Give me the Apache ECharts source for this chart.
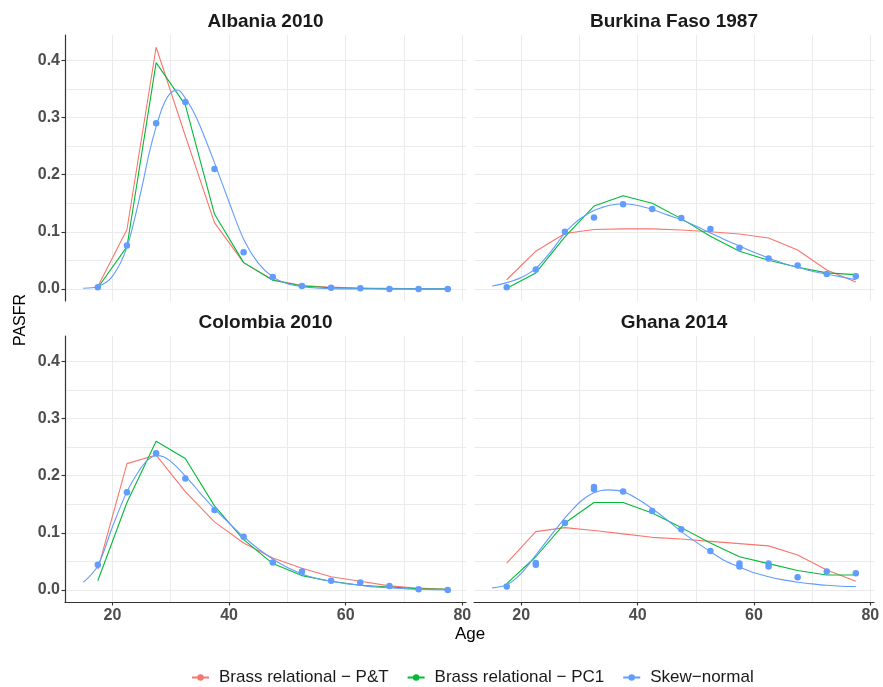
<!DOCTYPE html>
<html>
<head>
<meta charset="utf-8">
<title>PASFR by age</title>
<script src="https://cdn.jsdelivr.net/npm/echarts@6/dist/echarts.min.js"></script>
<style>
  html, body { margin: 0; padding: 0; background: #ffffff; }
  #chart { width: 883px; height: 687px; }
</style>
</head>
<body>
<div id="chart"></div>
<script>
// Age groups (mid-points) for observed rates and the two Brass fits
const ages = [17.5, 22.5, 27.5, 32.5, 37.5, 42.5, 47.5, 52.5, 57.5, 62.5, 67.5, 72.5, 77.5];
// Ages at which the skew-normal curve is drawn (denser around the peak)
const curveAges = [15, 17.5, 20, 22.5, 25, 26.25, 27.5, 28.75, 30, 31.25, 32.5, 33.75, 35, 37.5, 40, 42.5,
                   45, 47.5, 50, 52.5, 55, 57.5, 60, 62.5, 65, 67.5, 70, 72.5, 75, 77.5];

const xTicks = [20, 40, 60, 80];
const xGrid = [20, 30, 40, 50, 60, 70, 80];
const yTicks = [0, 0.1, 0.2, 0.3, 0.4];
const yGrid = [0, 0.05, 0.1, 0.15, 0.2, 0.25, 0.3, 0.35, 0.4];

const seriesNames = ['Brass relational \u2212 P&T', 'Brass relational \u2212 PC1', 'Skew\u2212normal'];
const panelTitles = ['Albania 2010', 'Burkina Faso 1987', 'Colombia 2010', 'Ghana 2014'];

// Albania 2010
const albaniaObs  = [0.003, 0.076, 0.290, 0.327, 0.210, 0.064, 0.021, 0.005, 0.002, 0.001, 0, 0, 0];
const albaniaPT   = [0.004, 0.104, 0.423, 0.268, 0.116, 0.046, 0.016, 0.006, 0.003, 0.001, 0.001, 0, 0];
const albaniaPC1  = [0.002, 0.074, 0.396, 0.322, 0.131, 0.046, 0.015, 0.005, 0.002, 0.001, 0, 0, 0];
const albaniaSkew = [0.001, 0.004, 0.022, 0.073, 0.175, 0.235, 0.284, 0.322, 0.343, 0.348, 0.334, 0.313, 0.286,
                     0.221, 0.152, 0.087, 0.045, 0.021, 0.009, 0.004, 0.0015, 0.0005, 0, 0, 0, 0, 0, 0, 0, 0];

// Burkina Faso 1987
const burkinaObs  = [0.003, 0.034, 0.100, 0.125, 0.148, 0.140, 0.124, 0.105, 0.072, 0.053, 0.041, 0.026, 0.022];
const burkinaPT   = [0.016, 0.066, 0.097, 0.104, 0.105, 0.105, 0.103, 0.100, 0.096, 0.089, 0.068, 0.033, 0.012];
const burkinaPC1  = [0.001, 0.028, 0.091, 0.145, 0.163, 0.150, 0.123, 0.092, 0.066, 0.050, 0.038, 0.028, 0.025];
const burkinaSkew = [0.005, 0.011, 0.020, 0.036, 0.064, 0.081, 0.098, 0.111, 0.122, 0.130, 0.137, 0.142, 0.146,
                     0.149, 0.146, 0.139, 0.130, 0.121, 0.110, 0.098, 0.086, 0.075, 0.064, 0.054, 0.045, 0.038,
                     0.031, 0.026, 0.021, 0.016];

// Colombia 2010
const colombiaObs  = [0.044, 0.171, 0.239, 0.195, 0.140, 0.093, 0.048, 0.032, 0.016, 0.013, 0.007, 0.001, 0];
const colombiaPT   = [0.036, 0.221, 0.236, 0.172, 0.119, 0.082, 0.056, 0.038, 0.023, 0.015, 0.007, 0.003, 0.001];
const colombiaPC1  = [0.016, 0.153, 0.260, 0.230, 0.147, 0.088, 0.046, 0.025, 0.015, 0.008, 0.005, 0.002, 0.001];
const colombiaSkew = [0.013, 0.042, 0.110, 0.172, 0.215, 0.229, 0.235, 0.233, 0.225, 0.213, 0.199, 0.185, 0.170,
                      0.142, 0.117, 0.093, 0.072, 0.054, 0.039, 0.028, 0.020, 0.015, 0.011, 0.008, 0.005, 0.004,
                      0.002, 0.001, 0.0005, 0];

// Ghana 2014 (some age groups have a second observation)
const ghanaObs       = [0.006, 0.047, 0.117, 0.180, 0.172, 0.138, 0.106, 0.068, 0.046, 0.046, 0.022, 0.032, 0.029];
const ghanaExtraAges = [22.5, 32.5, 57.5, 62.5];
const ghanaExtraObs  = [0.044, 0.176, 0.041, 0.041];
const ghanaPT   = [0.047, 0.102, 0.109, 0.104, 0.098, 0.092, 0.089, 0.085, 0.081, 0.077, 0.061, 0.035, 0.015];
const ghanaPC1  = [0.011, 0.058, 0.117, 0.153, 0.153, 0.1345, 0.109, 0.082, 0.058, 0.046, 0.034, 0.026, 0.026];
const ghanaSkew = [0.0035, 0.009, 0.029, 0.061, 0.094, 0.110, 0.126, 0.140, 0.153, 0.163, 0.170, 0.174, 0.175,
                   0.172, 0.159, 0.142, 0.123, 0.102, 0.084, 0.067, 0.051, 0.040, 0.030, 0.023, 0.0175, 0.0135,
                   0.0105, 0.008, 0.0065, 0.006];

const pairs = (xs, ys) => xs.map((x, i) => [x, ys[i]]);

const panelData = [
  { pt: albaniaPT,  pc1: albaniaPC1,  skew: albaniaSkew,  obs: pairs(ages, albaniaObs) },
  { pt: burkinaPT,  pc1: burkinaPC1,  skew: burkinaSkew,  obs: pairs(ages, burkinaObs) },
  { pt: colombiaPT, pc1: colombiaPC1, skew: colombiaSkew, obs: pairs(ages, colombiaObs) },
  { pt: ghanaPT,    pc1: ghanaPC1,    skew: ghanaSkew,
    obs: pairs(ages, ghanaObs).concat(pairs(ghanaExtraAges, ghanaExtraObs)) }
];

// Facet layout (2 x 2), shared scales
const FONT = 'Liberation Sans, Arial, Helvetica, sans-serif';
const RED = '#F8766D', GREEN = '#00BA38', BLUE = '#619CFF';
const GRID_COLOR = '#EBEBEB', AXIS_COLOR = '#333333', TICK_TEXT = '#4D4D4D';
const X_MIN = 11.875, X_MAX = 80.625;
const Y_MIN = -0.0212, Y_MAX = 0.4444;

const gridBoxes = [
  { left: 65,  top: 35,  width: 401, height: 266 },
  { left: 474, top: 35,  width: 400, height: 266 },
  { left: 65,  top: 336, width: 401, height: 266 },
  { left: 474, top: 336, width: 400, height: 266 }
];

const xAxes = [], yAxes = [], series = [];

gridBoxes.forEach((g, i) => {
  const isBottom = i >= 2;
  const isLeft = i % 2 === 0;

  // Axis carrying line, ticks and labels
  xAxes.push({
    type: 'value', gridIndex: i, position: 'bottom', min: X_MIN, max: X_MAX,
    axisLine: { show: isBottom, onZero: false, lineStyle: { color: AXIS_COLOR, width: 1.2 } },
    axisTick: { show: isBottom, customValues: xTicks, length: 3.5, lineStyle: { color: AXIS_COLOR, width: 1.1 } },
    axisLabel: { show: isBottom, customValues: xTicks, margin: 6, color: TICK_TEXT,
                 fontSize: 16, fontWeight: 'bold', fontFamily: FONT },
    splitLine: { show: false }
  });
  // Axis carrying the vertical grid lines
  xAxes.push({
    type: 'value', gridIndex: i, position: 'top', min: X_MIN, max: X_MAX,
    axisLine: { show: false }, axisLabel: { show: false },
    axisTick: { show: false, customValues: xGrid },
    splitLine: { show: true, lineStyle: { color: GRID_COLOR, width: 1 } }
  });

  yAxes.push({
    type: 'value', gridIndex: i, position: 'left', min: Y_MIN, max: Y_MAX,
    axisLine: { show: isLeft, onZero: false, lineStyle: { color: AXIS_COLOR, width: 1.2 } },
    axisTick: { show: isLeft, customValues: yTicks, length: 3.5, lineStyle: { color: AXIS_COLOR, width: 1.1 } },
    axisLabel: { show: isLeft, customValues: yTicks, margin: 5, color: TICK_TEXT,
                 fontSize: 16, fontWeight: 'bold', fontFamily: FONT,
                 formatter: v => v.toFixed(1) },
    splitLine: { show: false }
  });
  yAxes.push({
    type: 'value', gridIndex: i, position: 'right', min: Y_MIN, max: Y_MAX,
    axisLine: { show: false }, axisLabel: { show: false },
    axisTick: { show: false, customValues: yGrid },
    splitLine: { show: true, lineStyle: { color: GRID_COLOR, width: 1 } }
  });

  const d = panelData[i];
  const common = { xAxisIndex: 2 * i, yAxisIndex: 2 * i, animation: false, silent: true };

  series.push(Object.assign({
    type: 'line', name: seriesNames[0], data: pairs(ages, d.pt),
    symbol: 'circle', symbolSize: 6, showSymbol: false,
    itemStyle: { color: RED }, lineStyle: { color: RED, width: 1.1 }, z: 2
  }, common));
  series.push(Object.assign({
    type: 'line', name: seriesNames[1], data: pairs(ages, d.pc1),
    symbol: 'circle', symbolSize: 6, showSymbol: false,
    itemStyle: { color: GREEN }, lineStyle: { color: GREEN, width: 1.1 }, z: 3
  }, common));
  series.push(Object.assign({
    type: 'line', name: seriesNames[2], data: pairs(curveAges, d.skew), smooth: 0.3,
    symbol: 'circle', symbolSize: 6, showSymbol: false,
    itemStyle: { color: BLUE }, lineStyle: { color: BLUE, width: 1.1 }, z: 4
  }, common));
  series.push(Object.assign({
    type: 'scatter', name: seriesNames[2], data: d.obs,
    symbol: 'circle', symbolSize: 6.5, itemStyle: { color: BLUE, opacity: 1 }, z: 5
  }, common));
});

const titleCenters = [[265.5, 21.5], [674, 21.5], [265.5, 323], [674, 323]];
const graphics = panelTitles.map((t, i) => ({
  type: 'text', x: titleCenters[i][0], y: titleCenters[i][1], silent: true,
  style: { text: t, fill: '#1A1A1A', font: 'bold 19px ' + FONT,
           align: 'center', verticalAlign: 'middle', textAlign: 'center', textVerticalAlign: 'middle' }
}));
graphics.push({
  type: 'text', x: 21, y: 320, rotation: Math.PI / 2, silent: true,
  style: { text: 'PASFR', fill: '#000000', font: '16px ' + FONT,
           align: 'center', verticalAlign: 'middle', textAlign: 'center', textVerticalAlign: 'middle' }
});
graphics.push({
  type: 'text', x: 470, y: 634, silent: true,
  style: { text: 'Age', fill: '#000000', font: '17px ' + FONT,
           align: 'center', verticalAlign: 'middle', textAlign: 'center', textVerticalAlign: 'middle' }
});

const chart = echarts.init(document.getElementById('chart'), null, { renderer: 'canvas' });
chart.setOption({
  backgroundColor: '#ffffff',
  animation: false,
  grid: gridBoxes.map(g => Object.assign({ containLabel: false }, g)),
  xAxis: xAxes,
  yAxis: yAxes,
  legend: {
    data: seriesNames, left: 186, top: 664,
    itemWidth: 17, itemHeight: 8, itemGap: 18,
    textStyle: { fontSize: 17, color: '#1A1A1A', fontFamily: FONT, padding: [0, 0, 0, 5] },
    selectedMode: false
  },
  graphic: graphics,
  series: series
});
</script>
</body>
</html>
